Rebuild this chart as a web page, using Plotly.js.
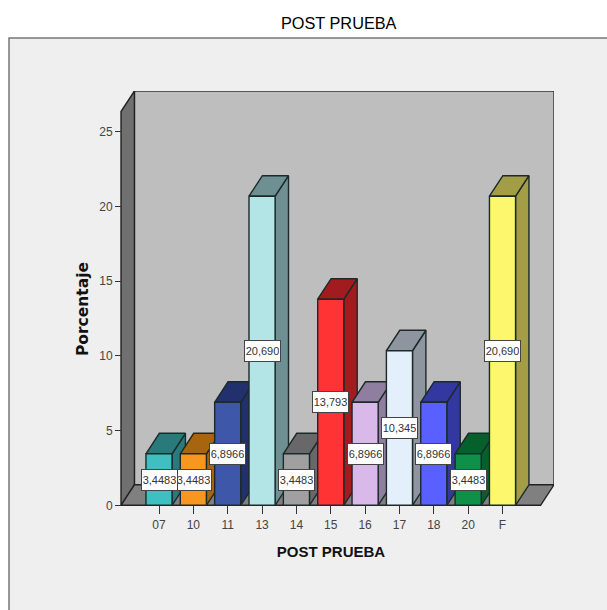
<!DOCTYPE html>
<html><head><meta charset="utf-8">
<script src="https://cdn.plot.ly/plotly-3.0.1.min.js"></script>
<style>html,body{margin:0;padding:0;background:#fff}</style></head>
<body><div id="chart" style="width:607px;height:610px"></div>
<script>
const categories = ['07','10','11','13','14','15','16','17','18','20','F'];
const values = [3.4483,3.4483,6.8966,20.690,3.4483,13.793,6.8966,10.345,6.8966,3.4483,20.690];
const valueLabels = ['3,4483','3,4483','6,8966','20,690','3,4483','13,793','6,8966','10,345','6,8966','3,4483','20,690'];
const frontColors = ['#40bfc2','#f9961e','#3e57a8','#b3e5e6','#a0a0a0','#ff3333','#d9b8ea','#e3effb','#5a5fff','#0f9048','#fcf76c'];
const depthColors = ['#2a7a7c','#a8650f','#23306e','#6f9092','#686868','#a21c1f','#8f7ea0','#8e959e','#3338a0','#06602c','#a39d45'];
const yTicks = [0,5,10,15,20,25];

const FONT = '"Liberation Sans",Arial,sans-serif';
// plot box in page pixels: 108..554 across, 91..527 down
const boxL=108, boxR=554, boxT=91, boxB=527, zeroPx=505.3, pxPerCat=34.35, pxPerUnit=14.94, firstCatPx=159;
const xLow=(boxL-firstCatPx)/pxPerCat, xHigh=(boxR-firstCatPx)/pxPerCat;
const yLow=(zeroPx-boxB)/pxPerUnit, yHigh=(zeroPx-boxT)/pxPerUnit;
const barHalf = 0.38, dx = 0.39, dy = 1.372;
const xMin = -1.106, xMax = xHigh-dx, yMax = yHigh-dy;
const edge = '#1c2a2a';
function poly(xs, ys, fill, line){
  return {type:'scatter',mode:'lines',x:[...xs,xs[0]],y:[...ys,ys[0]],fill:'toself',fillcolor:fill,
    line:{color:line||edge,width:1.4},cliponaxis:false,hoverinfo:'skip',showlegend:false};
}
const traces = [
  poly([xMin+dx,xMax+dx,xMax+dx,xMin+dx],[dy,dy,yMax+dy,yMax+dy],'#bebebe','#333'),
  poly([xMin,xMin+dx,xMin+dx,xMin],[0,dy,yMax+dy,yMax],'#707070','#222'),
  poly([xMin,xMax,xMax+dx,xMin+dx],[0,0,dy,dy],'#808080','#222')
];
values.forEach((v,i)=>{
  const l=i-barHalf,r=i+barHalf;
  traces.push(poly([r,r+dx,r+dx,r],[0,dy,v+dy,v],depthColors[i]));
  traces.push(poly([l,r,r+dx,l+dx],[v,v,v+dy,v+dy],depthColors[i]));
  traces.push(poly([l,r,r,l],[0,0,v,v],frontColors[i]));
});
const annotations = values.map((v,i)=>({
  x:i,y:v/2,xref:'x',yref:'y',text:valueLabels[i],showarrow:false,bgcolor:'#fff',
  width:33,height:18,bordercolor:'#444',borderwidth:1,borderpad:1,font:{family:FONT,size:11,color:'#333'}
})).reverse();
const W=boxR-boxL, H=boxB-boxT;
const layout = {
  width:607,height:610,paper_bgcolor:'#fff',plot_bgcolor:'rgba(0,0,0,0)',showlegend:false,
  margin:{l:boxL,r:607-boxR,t:boxT,b:610-boxB},
  title:{text:'POST PRUEBA',font:{family:FONT,size:16.3,color:'#000'},x:314/607,xanchor:'center',xref:'paper',y:1-23/610,yanchor:'middle'},
  xaxis:{range:[xLow,xHigh],anchor:'free',position:(boxB-zeroPx)/H,tickmode:'array',tickvals:categories.map((c,i)=>i),ticktext:categories,
    ticks:'outside',ticklen:8,tickcolor:'#333',tickwidth:1,showgrid:false,zeroline:false,showline:false,
    tickfont:{family:FONT,size:12,color:'#444'},
    title:{text:'<b>POST PRUEBA</b>',font:{family:FONT,size:15,color:'#111'},standoff:15}},
  yaxis:{range:[yLow,yHigh],anchor:'free',position:(121-boxL)/W,tickmode:'array',tickvals:yTicks,ticktext:yTicks.map(String),
    ticks:'outside',ticklen:6,tickcolor:'#333',tickwidth:1,showgrid:false,zeroline:false,showline:false,
    tickfont:{family:FONT,size:12,color:'#444'},
    title:{text:'<b>Porcentaje</b>',font:{family:'"DejaVu Sans",sans-serif',size:15.5,color:'#111'},standoff:5}},
  shapes:[{type:'rect',xref:'paper',yref:'paper',layer:'below',
    x0:(9-boxL)/W,x1:(640-boxL)/W,y0:(boxB-640)/H,y1:(boxB-38)/H,
    fillcolor:'#efefef',line:{color:'#777',width:1.5}}],
  annotations
};
Plotly.newPlot('chart',traces,layout,{displayModeBar:false,staticPlot:true});
</script></body></html>
